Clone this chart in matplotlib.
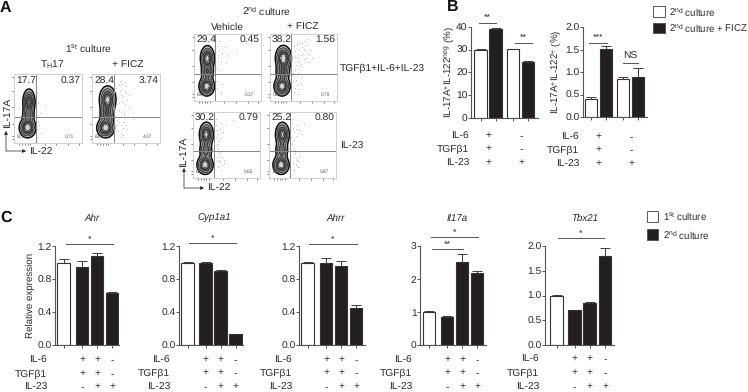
import matplotlib
matplotlib.use('Agg')
import matplotlib.pyplot as plt
import numpy as np

plt.rcParams['font.family'] = ['Liberation Sans', 'DejaVu Sans']
plt.rcParams['mathtext.fontset'] = 'custom'
plt.rcParams['mathtext.rm'] = 'Liberation Sans'
plt.rcParams['mathtext.it'] = 'Liberation Sans:italic'
plt.rcParams['axes.linewidth'] = 0.8
plt.rcParams['text.hinting'] = 'none'

W, H = 748, 392
TXT = '#2a2a2a'
BLACK = '#231f20'
FS = 7.4

# panel B
b_left_vals = [30, 39, 30.3, 24.7]
b_left_err = [0.3, 0.4, 0.1, 0.5]
b_right_vals = [0.4, 1.52, 0.85, 0.9]
b_right_err = [0.04, 0.05, 0.05, 0.18]
b_colors = ['white', BLACK, 'white', BLACK]
b_rows = [('IL-6', '+-'), ('TGFβ1', '+-'), ('IL-23', '++')]

# panel C
ahr_vals = [1.0, 0.94, 1.08, 0.63]
ahr_err = [0.04, 0.08, 0.03, 0.01]
cyp_vals = [1.0, 1.0, 0.9, 0.13]
cyp_err = [0.01, 0.005, 0.01, 0.003]
ahrr_vals = [1.0, 1.0, 0.96, 0.45]
ahrr_err = [0.003, 0.06, 0.06, 0.03]
il17_vals = [1.0, 0.86, 2.52, 2.17]
il17_err = [0.02, 0.01, 0.23, 0.06]
tbx_vals = [1.0, 0.7, 0.84, 1.8]
tbx_err = [0.005, 0.005, 0.02, 0.16]
c_colors = ['white', BLACK, BLACK, BLACK]
c_rows = [('IL-6', '++-'), ('TGFβ1', '++-'), ('IL-23', '-++')]

# flow panels: corner numbers (upper left, upper right, lower left, lower right)
th17_nums = ['17.7', '0.37', '81.2', '0.71']
ficz1_nums = ['28.4', '3.74', '63.8', '4.07']
veh1_nums = ['29.4', '0.45', '69.8', '0.37']
ficz2_nums = ['38.2', '1.56', '59.4', '0.79']
veh2_nums = ['30.2', '0.79', '68.4', '0.65']
ficz3_nums = ['25.2', '0.80', '73.2', '0.87']

# blobs of each contour plot: centre x, centre y, spread x, spread y, weight
th17_blobs = [(0.22, 0.6, 0.042, 0.085, 0.8), (0.2, 0.22, 0.055, 0.065, 1.0), (0.21, 0.4, 0.042, 0.07, 0.5)]
ficz1_blobs = [(0.23, 0.63, 0.056, 0.09, 0.9), (0.2, 0.22, 0.058, 0.065, 1.0), (0.22, 0.42, 0.05, 0.07, 0.55)]
veh1_blobs = [(0.2, 0.64, 0.048, 0.085, 0.9), (0.19, 0.22, 0.052, 0.065, 1.0), (0.2, 0.43, 0.044, 0.07, 0.55)]
ficz2_blobs = [(0.2, 0.64, 0.054, 0.085, 1.0), (0.18, 0.22, 0.054, 0.065, 1.0), (0.19, 0.43, 0.048, 0.07, 0.6)]
veh2_blobs = [(0.2, 0.66, 0.048, 0.085, 0.9), (0.18, 0.2, 0.054, 0.065, 1.0), (0.19, 0.42, 0.044, 0.07, 0.55)]
ficz3_blobs = [(0.2, 0.66, 0.048, 0.085, 0.85), (0.18, 0.2, 0.054, 0.065, 1.0), (0.19, 0.42, 0.044, 0.07, 0.55)]

# sparse events
th17_x = [0.34, 0.36, 0.33, 0.38, 0.35, 0.34, 0.4, 0.33, 0.36, 0.45, 0.08, 0.35, 0.37]
th17_y = [0.72, 0.6, 0.5, 0.44, 0.3, 0.2, 0.15, 0.82, 0.08, 0.55, 0.5, 0.4, 0.26]
ficz1_x = [0.36, 0.4, 0.44, 0.48, 0.42, 0.38, 0.46, 0.5, 0.52, 0.41, 0.37, 0.44, 0.55, 0.49, 0.39, 0.43, 0.47, 0.4, 0.36, 0.45,
           0.42, 0.38, 0.5, 0.46, 0.6, 0.37, 0.41, 0.48, 0.55, 0.4, 0.36, 0.44, 0.39, 0.47, 0.42, 0.52]
ficz1_y = [0.8, 0.84, 0.78, 0.74, 0.7, 0.66, 0.68, 0.82, 0.62, 0.9, 0.56, 0.6, 0.7, 0.56, 0.48, 0.45, 0.42, 0.3, 0.26, 0.22,
           0.14, 0.18, 0.26, 0.12, 0.35, 0.34, 0.76, 0.88, 0.52, 0.58, 0.72, 0.86, 0.38, 0.3, 0.08, 0.2]
veh1_x = [0.34, 0.38, 0.42, 0.36, 0.4, 0.46, 0.5, 0.33, 0.37, 0.35, 0.44, 0.62, 0.38, 0.34, 0.41, 0.36, 0.48, 0.35]
veh1_y = [0.82, 0.75, 0.7, 0.64, 0.58, 0.8, 0.68, 0.5, 0.46, 0.3, 0.25, 0.72, 0.9, 0.2, 0.12, 0.68, 0.56, 0.4]
ficz2_x = [0.36, 0.4, 0.44, 0.48, 0.52, 0.42, 0.38, 0.46, 0.5, 0.54, 0.58, 0.37, 0.41, 0.45, 0.49, 0.53, 0.39, 0.43, 0.47, 0.51,
           0.56, 0.6, 0.38, 0.42, 0.46, 0.35, 0.4, 0.44, 0.34, 0.39, 0.36, 0.42, 0.37, 0.46, 0.41, 0.5, 0.62, 0.55, 0.48, 0.44]
ficz2_y = [0.82, 0.85, 0.78, 0.8, 0.74, 0.7, 0.74, 0.68, 0.62, 0.84, 0.7, 0.66, 0.6, 0.88, 0.7, 0.64, 0.54, 0.52, 0.55, 0.78,
           0.58, 0.76, 0.46, 0.42, 0.34, 0.3, 0.24, 0.18, 0.42, 0.32, 0.14, 0.1, 0.2, 0.26, 0.66, 0.9, 0.64, 0.92, 0.86, 0.58]
veh2_x = [0.34, 0.36, 0.38, 0.4, 0.42, 0.35, 0.37, 0.39, 0.41, 0.44, 0.36, 0.4, 0.43, 0.46, 0.38, 0.42, 0.34, 0.37, 0.4, 0.45,
          0.5, 0.6, 0.36, 0.39, 0.42, 0.47, 0.35, 0.38]
veh2_y = [0.8, 0.72, 0.66, 0.6, 0.84, 0.5, 0.44, 0.4, 0.34, 0.3, 0.26, 0.24, 0.2, 0.28, 0.16, 0.12, 0.62, 0.56, 0.74, 0.7,
          0.8, 0.88, 0.32, 0.28, 0.38, 0.22, 0.9, 0.52]
ficz3_x = [0.34, 0.36, 0.38, 0.4, 0.42, 0.35, 0.37, 0.39, 0.41, 0.44, 0.36, 0.4, 0.43, 0.46, 0.38, 0.42, 0.34, 0.37, 0.4, 0.45,
           0.48, 0.52, 0.36, 0.39]
ficz3_y = [0.84, 0.76, 0.7, 0.64, 0.8, 0.52, 0.46, 0.38, 0.3, 0.26, 0.22, 0.2, 0.16, 0.34, 0.12, 0.28, 0.62, 0.58, 0.74, 0.72,
           0.66, 0.82, 0.9, 0.42]

fig = plt.figure(figsize=(W / 100, H / 100), dpi=100)

# overlay in pixel coordinates for all labels
ov = fig.add_axes([0, 0, 1, 1], zorder=5)
ov.set_xlim(0, W)
ov.set_ylim(H, 0)
ov.axis('off')


def box(x0, y0, x1, y1):
    return [x0 / W, 1 - y1 / H, (x1 - x0) / W, (y1 - y0) / H]


def txt(x, y, s, size=FS, ha='left', **kw):
    ov.text(x, y, s, fontsize=size, ha=ha, va='center', color=kw.pop('color', TXT), **kw)


def sig(x0, x1, y, s, ty=None):
    ov.plot([x0, x1], [y, y], color='#555555', lw=0.7)
    ov.text((x0 + x1) / 2, y - 4 if ty is None else ty, s, fontsize=6.5 if '*' in s else FS,
            ha='center', va='center', color=TXT)


def flow(x0, y0, x1, y1, vx, hy, blobs, nums, dots_x, dots_y):
    ax = fig.add_axes(box(x0, y0, x1, y1))
    ax.set_xlim(0, 1)
    ax.set_ylim(0, 1)
    gx, gy = np.meshgrid(np.linspace(0, 1, 200), np.linspace(0, 1, 200))
    z = np.zeros_like(gx)
    for cx, cy, sx, sy, w in blobs:
        z += w * np.exp(-0.5 * ((gx - cx) / sx) ** 2 - 0.5 * ((gy - cy) / sy) ** 2)
    ax.scatter(dots_x, dots_y, s=0.4, color='#b0b0b0', linewidths=0)
    ax.contourf(gx, gy, z, levels=[0.08, 0.2, 0.38, 0.58, 0.8, 5],
                colors=['#bdbdbd', '#8c8c8c', '#6a6a6a', '#565656', '#d4d4d4'])
    ax.contour(gx, gy, z, levels=[0.08], colors='#111111', linewidths=1.1)
    ax.contour(gx, gy, z, levels=[0.2, 0.38, 0.58, 0.8], colors='#222222', linewidths=0.45)
    ax.axvline(vx, color='#858585', lw=0.7)
    ax.axhline(hy, color='#858585', lw=0.7)
    for s in ax.spines.values():
        s.set_color('#c9c9c9')
        s.set_linewidth(0.6)
    ax.set_xticks([0.08, 0.12, 0.16, 0.2, 0.24, 0.45, 0.62, 0.8, 0.95])
    ax.set_yticks([0.06, 0.1, 0.28, 0.52, 0.76, 0.95])
    ax.tick_params(length=1.2, width=0.5, color='#555555', labelbottom=False, labelleft=False, pad=0,
                   direction='out')
    ax.text(0.03, 0.9, nums[0], fontsize=FS, color=TXT, va='center', ha='left', transform=ax.transAxes)
    ax.text(0.98, 0.9, nums[1], fontsize=FS, color=TXT, va='center', ha='right', transform=ax.transAxes)
    ax.text(0.04, 0.09, nums[2], fontsize=3.4, color='#555555', va='center', ha='left', transform=ax.transAxes)
    ax.text(0.82, 0.09, nums[3], fontsize=3.4, color='#555555', va='center', ha='center', transform=ax.transAxes)


def bars(x0, x1, y0, y1, centers, vals, errs, colors, ymax, yticks, yfmt):
    ax = fig.add_axes(box(x0, y0, x1, y1))
    ax.set_xlim(x0, x1)
    ax.set_ylim(0, ymax)
    ax.patch.set_alpha(0)
    ax.bar(centers, vals, width=12.5, color=colors, edgecolor='#333333', linewidth=0.8, zorder=2)
    for c, v, e in zip(centers, vals, errs):
        ax.errorbar(c, v, yerr=[[0], [e]], color=BLACK, capsize=3.5, capthick=0.6, elinewidth=0.6, zorder=1)
    ax.spines['top'].set_visible(False)
    ax.spines['right'].set_visible(False)
    ax.spines['left'].set_color('#555555')
    ax.spines['bottom'].set_color('#555555')
    ax.set_yticks(yticks)
    ax.set_yticklabels([yfmt % t for t in yticks], fontsize=FS, color=TXT)
    ax.set_xticks(centers)
    ax.set_xticklabels([])
    ax.tick_params(axis='y', length=2, width=0.7, pad=0.5, color='#555555')
    ax.tick_params(axis='x', length=2, width=0.7, color='#555555')
    return ax


def rows(label_x, sign_xs, ys, row_def):
    for (name, signs), y in zip(row_def, ys):
        txt(label_x, y, name, ha='right')
        for sx, s in zip(sign_xs, signs):
            txt(sx, y - 0.5, s, ha='center')


def legend(x0, x1, ys, text_x, labels):
    for (y0, y1), lab, col in zip(ys, labels, ['white', BLACK]):
        ov.add_patch(plt.Rectangle((x0, y0), x1 - x0, y1 - y0, facecolor=col, edgecolor='#555555', lw=0.7))
        txt(text_x, (y0 + y1) / 2, lab, size=6.9)


# panel letters
ov.text(0, 8, 'A', fontsize=11.5, fontweight='bold', color='#111111', va='center')
ov.text(447, 7, 'B', fontsize=11.5, fontweight='bold', color='#111111', va='center')
ov.text(0, 218, 'C', fontsize=11.5, fontweight='bold', color='#111111', va='center')

# panel A
txt(88, 49, r'1$^{\mathrm{st}}$ culture', ha='center')
txt(52, 65, r'T$_{\mathrm{H}}$17', ha='center')
txt(128, 65, '+ FICZ', ha='center')
txt(267, 11, r'2$^{\mathrm{nd}}$ culture', ha='center')
txt(227, 27, 'Vehicle', ha='center')
txt(303, 27, '+ FICZ', ha='center')
txt(340, 68, 'TGFβ1+IL-6+IL-23')
txt(340, 146, 'IL-23')

flow(14, 74, 82, 143, 0.32, 0.38, th17_blobs, th17_nums, th17_x, th17_y)
flow(92, 74, 160, 143, 0.32, 0.38, ficz1_blobs, ficz1_nums, ficz1_x, ficz1_y)
flow(194, 34, 261, 101, 0.31, 0.4, veh1_blobs, veh1_nums, veh1_x, veh1_y)
flow(270, 34, 337, 101, 0.32, 0.4, ficz2_blobs, ficz2_nums, ficz2_x, ficz2_y)
flow(193, 112, 260, 178, 0.31, 0.41, veh2_blobs, veh2_nums, veh2_x, veh2_y)
flow(269, 112, 336, 178, 0.32, 0.41, ficz3_blobs, ficz3_nums, ficz3_x, ficz3_y)

for cx, cy, top, right in [(6, 151, 131, 26), (184, 188, 168, 204)]:
    ov.annotate('', xy=(cx, top), xytext=(cx, cy),
                arrowprops=dict(arrowstyle='-|>,head_width=0.1,head_length=0.2', lw=0.5, color='#222222', shrinkA=0, shrinkB=0))
    ov.annotate('', xy=(right, cy), xytext=(cx, cy),
                arrowprops=dict(arrowstyle='-|>,head_width=0.1,head_length=0.2', lw=0.5, color='#222222', shrinkA=0, shrinkB=0))
txt(7, 113, 'IL-17A', rotation=90, ha='center')
txt(29, 151, 'IL-22')
txt(183, 152, 'IL-17A', rotation=90, ha='center')
txt(207, 187, 'IL-22')

# panel B
bars(471, 538, 27, 118, [480.5, 495.5, 513, 528], b_left_vals, b_left_err, b_colors, 40, [0, 10, 20, 30, 40], '%d')
bars(583, 647, 27, 117, [591, 606, 623, 638], b_right_vals, b_right_err, b_colors, 2.0, [0, 0.5, 1.0, 1.5, 2.0], '%.1f')
txt(449, 72, r'IL-17A$^{+}$IL-122$^{\mathrm{neg}}$ (%)', rotation=90, ha='center', size=7)
txt(556, 72, r'IL-17A$^{+}$IL-122$^{+}$ (%)', rotation=90, ha='center', size=7)
sig(479, 496, 23, '**', 18)
sig(515, 532, 43, '**', 38)
sig(589, 607, 43, '***', 38)
sig(623, 638, 63, 'NS', 56)
rows(469, [488, 521], [136, 149, 163], b_rows)
rows(579, [598, 631], [137, 150, 164], b_rows)
legend(653, 665, [(6, 17), (23, 33)], 669,
       [r'2$^{\mathrm{nd}}$ culture', r'2$^{\mathrm{nd}}$ culture + FICZ'])

# panel C
y0_c, y1_c = 246, 345
bars(55, 119, y0_c, y1_c, [63.5, 82, 97, 112], ahr_vals, ahr_err, c_colors, 1.2, [0, 0.4, 0.8, 1.2], '%.1f')
bars(179, 243, y0_c, y1_c, [187.5, 205.5, 220.5, 235.5], cyp_vals, cyp_err, c_colors, 1.2, [0, 0.4, 0.8, 1.2], '%.1f')
bars(299, 365, y0_c, y1_c, [307.5, 326, 341, 356], ahrr_vals, ahrr_err, c_colors, 1.2, [0, 0.4, 0.8, 1.2], '%.1f')
bars(420, 486, y0_c, y1_c, [429, 447, 462, 477], il17_vals, il17_err, c_colors, 3, [0, 1, 2, 3], '%d')
bars(545, 614, y0_c, y1_c, [556.5, 574.5, 589.5, 605], tbx_vals, tbx_err, c_colors, 2.0, [0, 0.5, 1.0, 1.5, 2.0], '%.1f')
txt(30, 295, 'Relative expression', rotation=90, ha='center', size=7)
for x, name in [(92, 'Ahr'), (214, 'Cyp1a1'), (336, 'Ahrr'), (457, 'Il17a'), (585, 'Tbx21')]:
    txt(x, 218, name, ha='center', style='italic', size=7)
sig(66, 113, 244, '*', 240)
sig(189, 236, 243, '*', 239)
sig(309, 357, 244, '*', 240)
sig(431, 478, 237, '*', 233)
sig(432, 463, 249, '**', 245)
sig(558, 604, 238, '*', 234)
rows(47, [82, 97, 112], [360, 374, 387], c_rows)
rows(170, [205.5, 220.5, 235.5], [360, 373, 387], c_rows)
rows(292, [326, 341, 356], [360, 373, 387], c_rows)
rows(412, [447, 462, 477], [360, 373, 387], c_rows)
rows(539, [574.5, 589.5, 605], [359, 373, 387], c_rows)
legend(647, 658, [(211, 222), (229, 240)], 663,
       [r'1$^{\mathrm{st}}$ culture', r'2$^{\mathrm{nd}}$ culture'])

fig.savefig('out.png', dpi=100)
